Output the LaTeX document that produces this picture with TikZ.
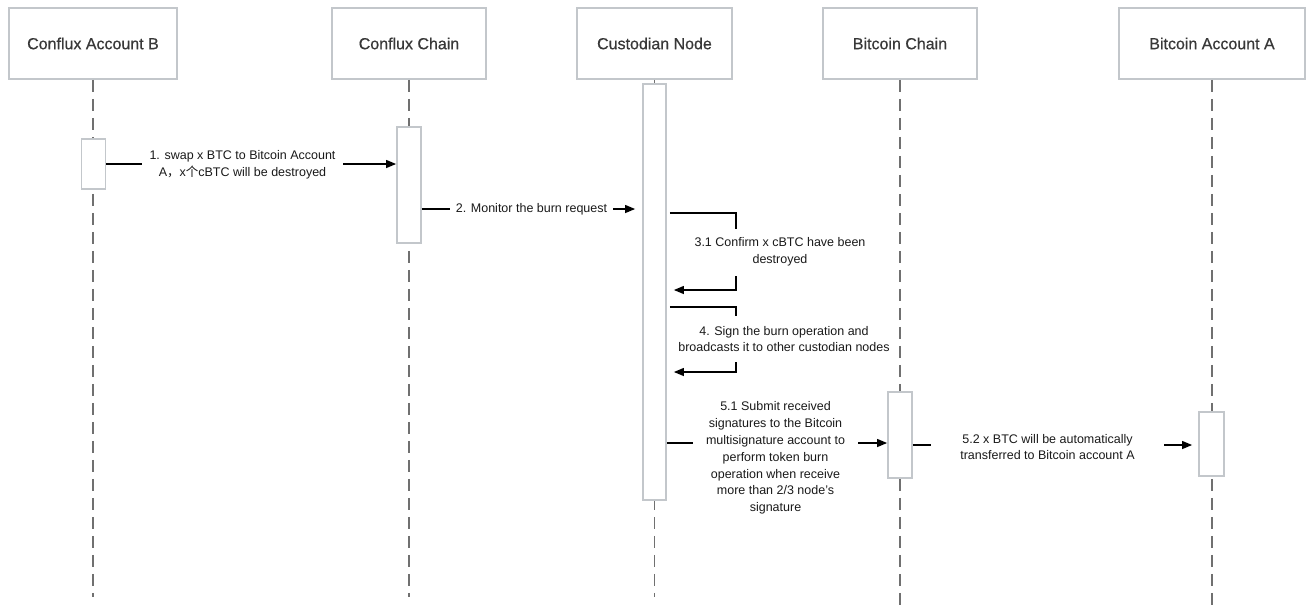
\documentclass[tikz,border=0pt]{standalone}
\usepackage{fontspec}
\setmainfont{Liberation Sans}
\newfontfamily\headfont[FakeBold=0.5]{Liberation Sans}
\newfontfamily\cjk{Noto Sans CJK SC}
\usetikzlibrary{arrows.meta}
\definecolor{boxline}{HTML}{C3C7CB}
\definecolor{lifecol}{HTML}{707070}
\definecolor{headtext}{HTML}{383838}
\definecolor{msgtext}{HTML}{1A1A1A}
\begin{document}
\begin{tikzpicture}[x=1pt,y=-1pt,
  header/.style={draw=boxline, line width=1.8pt, fill=white, minimum height=71pt, inner sep=0pt, text=headtext, font=\headfont\fontsize{16}{19}\selectfont},
  actbar/.style={draw=boxline, line width=1.8pt, fill=white, inner sep=0pt},
  lifeln/.style={draw=lifecol, line width=1.6pt, dash pattern=on 12pt off 7pt},
  msg/.style={draw=black, line width=1.2pt, -{Triangle[length=10pt,width=8pt]}},
  lbl/.style={fill=white, text=msgtext, align=center, inner sep=0pt, font=\fontsize{12.5}{16.8}\selectfont}
]
\useasboundingbox (0,0) rectangle (1307,611);

% headers
\node[header, minimum width=168pt] (hA) at (93,43.5) {Conflux Account B};
\node[header, minimum width=154pt] (hB) at (409,43.5) {Conflux Chain};
\node[header, minimum width=155pt] (hC) at (654.5,43.5) {Custodian Node};
\node[header, minimum width=154pt] (hD) at (900,43.5) {Bitcoin Chain};
\node[header, minimum width=186pt] (hE) at (1212,43.5) {Bitcoin Account A};

% lifeline ends
\coordinate (eA) at (93,597);
\coordinate (eB) at (409,597);
\coordinate (eC) at (654.5,597);
\coordinate (eD) at (900,611);
\coordinate (eE) at (1212,611);

\draw[lifeln] (hA.south) -- (eA);
\draw[lifeln] (hB.south) -- (eB);
\draw[lifeln] (hC.south) -- (eC);
\draw[lifeln] (hD.south) -- (eD);
\draw[lifeln] (hE.south) -- (eE);

% activation bars
\node[actbar, minimum width=24pt, minimum height=50pt] (aA) at (93.5,164) {};
\node[actbar, minimum width=24pt, minimum height=116pt] (aB) at (409,185) {};
\node[actbar, minimum width=23pt, minimum height=416pt] (aC) at (654.5,292) {};
\node[actbar, minimum width=24pt, minimum height=86pt] (aD) at (900,435) {};
\node[actbar, minimum width=25pt, minimum height=64pt] (aE) at (1211.5,444) {};

% message anchors
\coordinate (m2) at (0,209);
\coordinate (l31) at (736,213);
\coordinate (l31b) at (736,290);
\coordinate (l4) at (736,307);
\coordinate (l4b) at (736,372);
\coordinate (m51) at (0,443);
\coordinate (m52) at (0,445);

% messages
\draw[msg] (aA.east) -- (aA.east -| aB.west);
\draw[msg] (aB.east |- m2) -- ([xshift=-7pt]aC.west |- m2);
\draw[msg] ([xshift=3pt]aC.east |- l31) -- (l31) -- (l31b) -- ([xshift=7pt]aC.east |- l31b);
\draw[msg] ([xshift=3pt]aC.east |- l4) -- (l4) -- (l4b) -- ([xshift=7pt]aC.east |- l4b);
\draw[msg] (aC.east |- m51) -- (aD.west |- m51);
\draw[msg] (aD.east |- m52) -- ([xshift=-6pt]aE.west |- m52);

% labels
\node[lbl, minimum width=201pt, minimum height=48pt] (t1) at (242.5,164.5)
  {1. swap x BTC to Bitcoin Account\\A{\cjk ，}x{\cjk 个}cBTC will be destroyed};
\node[lbl, minimum width=163pt, minimum height=26pt] (t2) at (531.5,209)
  {2. Monitor the burn request};
\node[lbl, minimum width=216pt, minimum height=47pt] (t31) at (780,252)
  {3.1 Confirm x cBTC have been\\destroyed};
\node[lbl, minimum width=226pt, minimum height=46pt] (t4) at (784,339)
  {4. Sign the burn operation and\\broadcasts it to other custodian nodes};
\node[lbl, minimum width=165pt, minimum height=130pt] (t51) at (775.5,458)
  {5.1 Submit received\\signatures to the Bitcoin\\multisignature account to\\perform token burn\\operation when receive\\more than 2/3 node's\\signature};
\node[lbl, minimum width=233pt, minimum height=40pt] (t52) at (1047.5,447)
  {5.2 x BTC will be automatically\\transferred to Bitcoin account A};
\end{tikzpicture}
\end{document}
